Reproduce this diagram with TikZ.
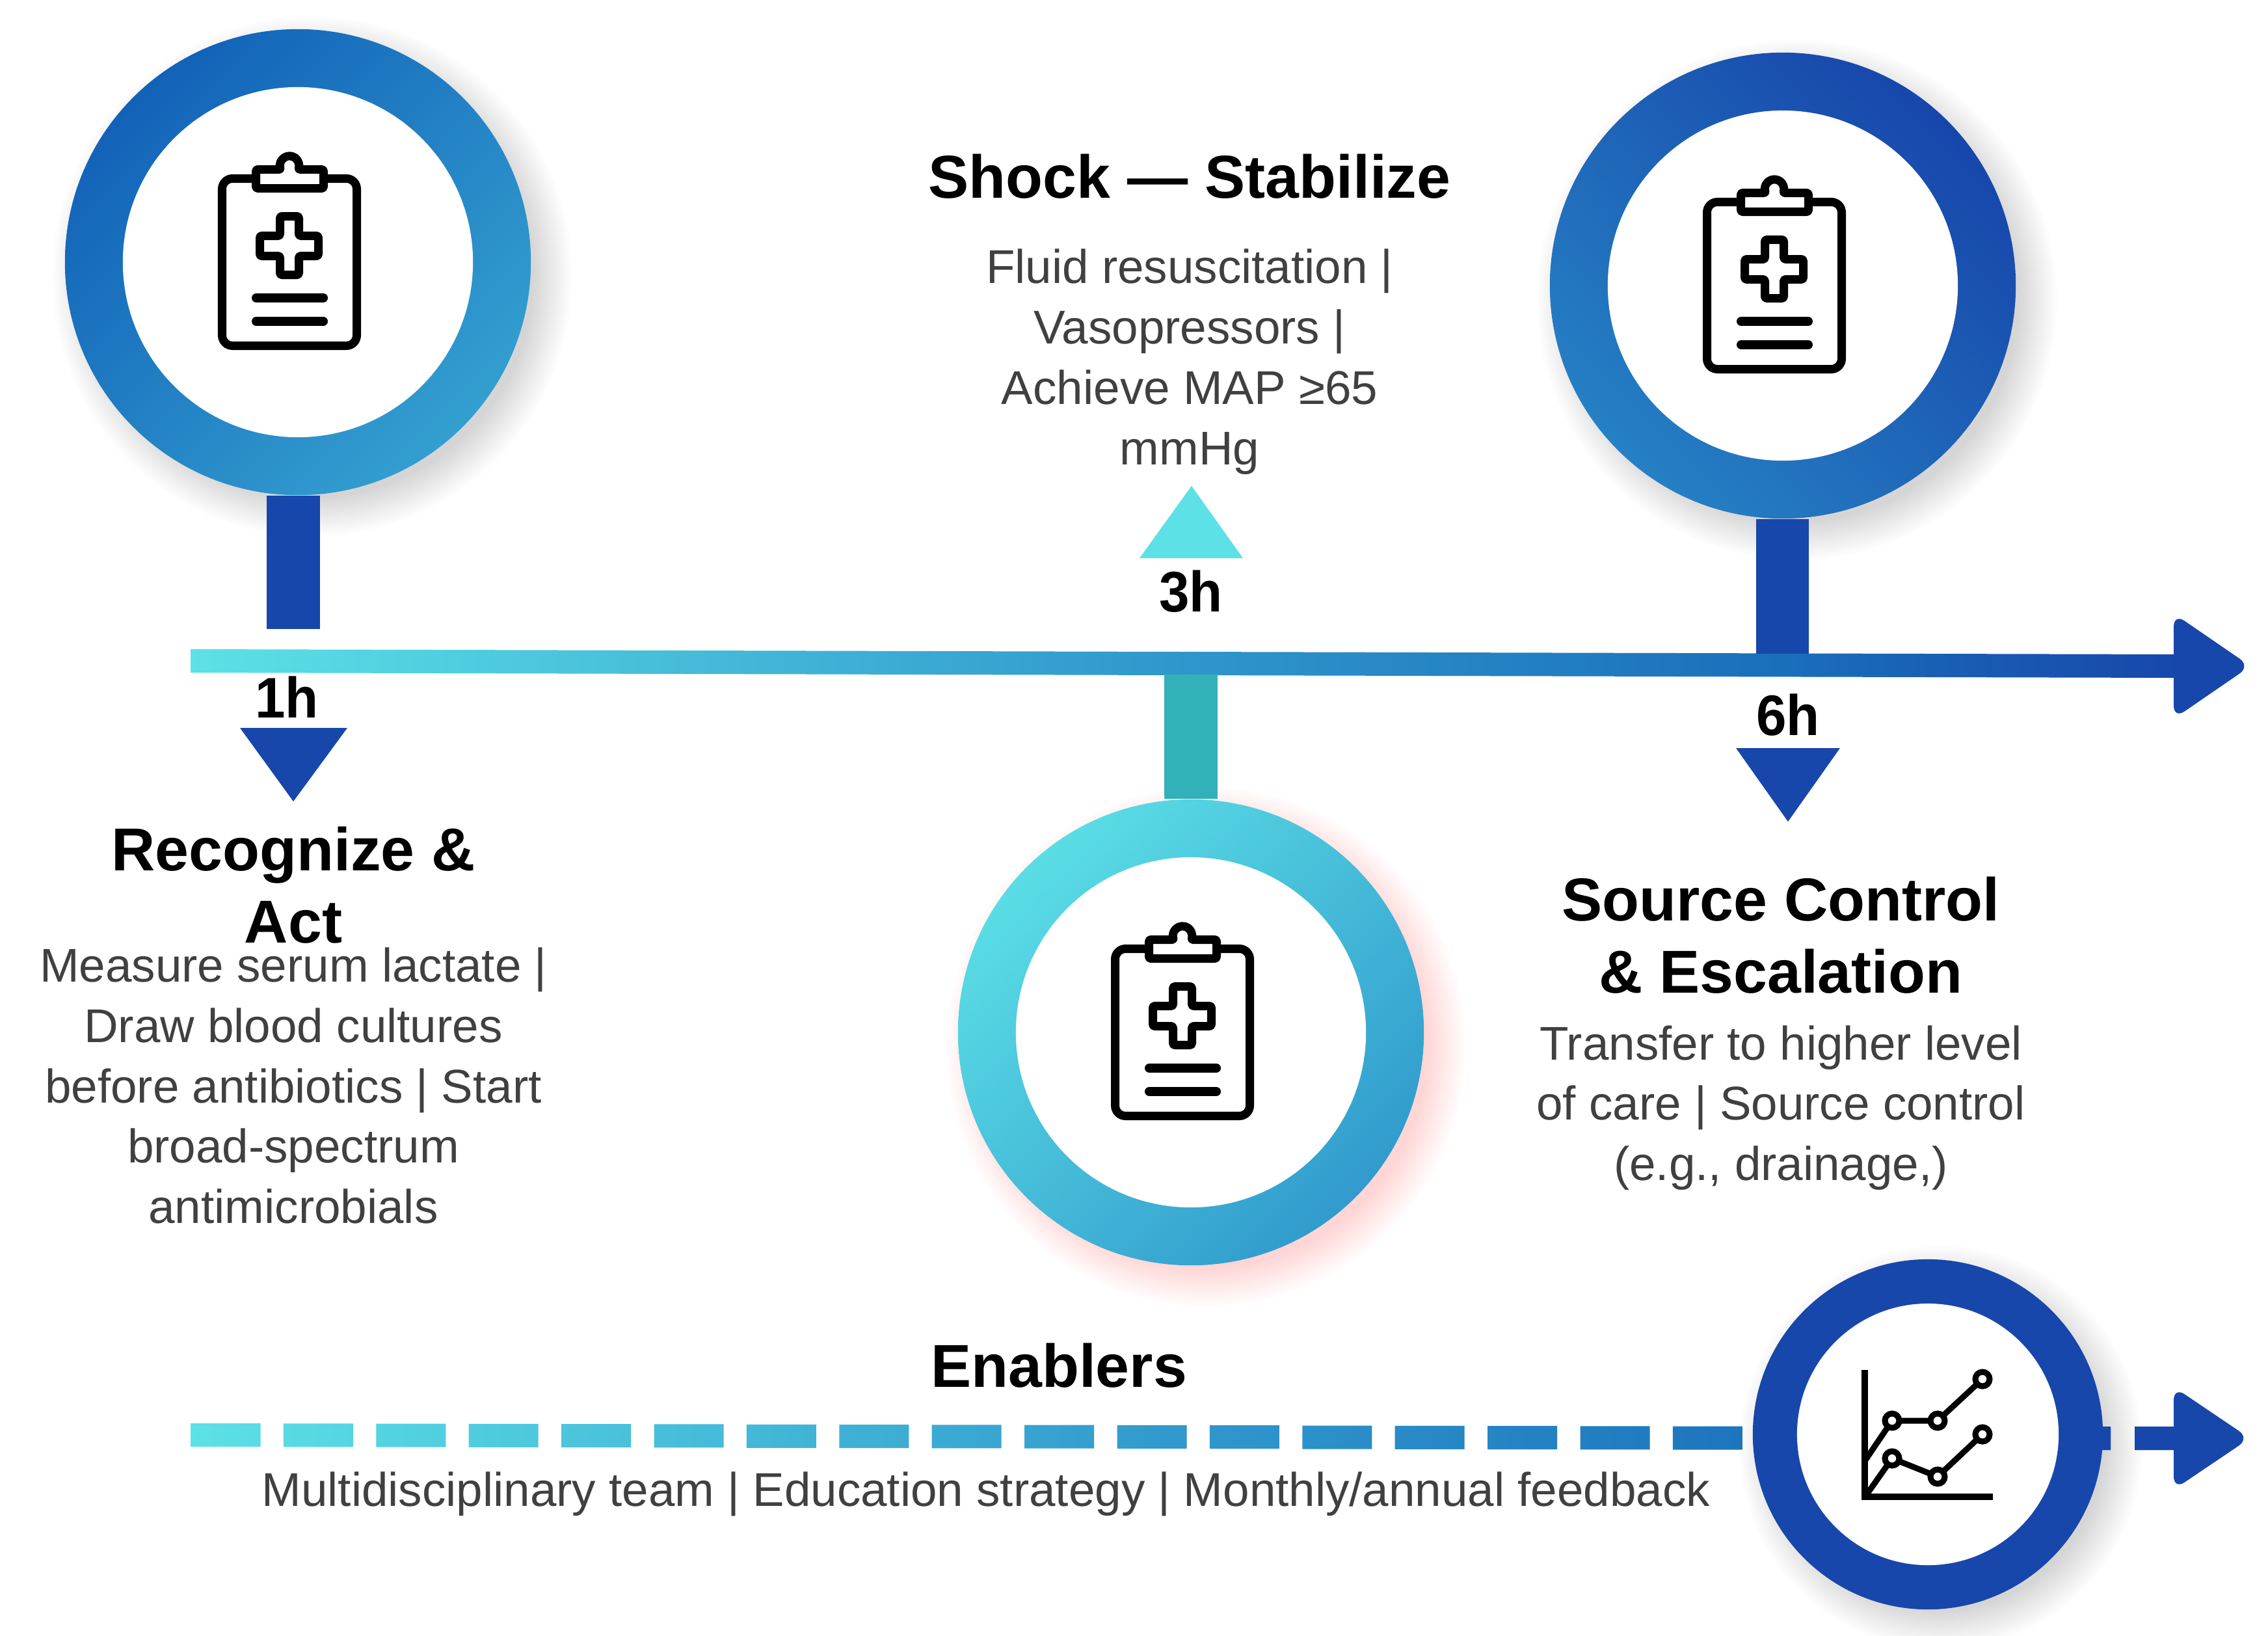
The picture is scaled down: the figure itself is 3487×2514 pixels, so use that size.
\documentclass[tikz,border=0pt]{standalone}
\usepackage{fontspec}
\setmainfont{Liberation Sans}
\newfontfamily\condbold[FakeStretch=0.95]{Liberation Sans Bold}
\usetikzlibrary{calc}
\definecolor{txtgray}{HTML}{404040}
\definecolor{cyanA}{HTML}{5CE1E6}
\definecolor{midB}{HTML}{2F96CC}
\definecolor{deepM}{HTML}{1A6FBB}
\definecolor{blueC}{HTML}{1747AB}
\definecolor{tealD}{HTML}{33B1B9}
\definecolor{ringAa}{HTML}{1262B8}
\definecolor{ringAb}{HTML}{339FD0}
\definecolor{ringBa}{HTML}{5ADDE5}
\definecolor{ringBb}{HTML}{319BCD}
\definecolor{ringCa}{HTML}{1746AB}
\definecolor{ringCb}{HTML}{2580C4}
\definecolor{pinkS}{HTML}{FF7070}
\pgfdeclarehorizontalshading{timeline}{100bp}{color(0bp)=(cyanA); color(25bp)=(cyanA); color(50bp)=(midB); color(65bp)=(deepM); color(75bp)=(blueC); color(100bp)=(blueC)}
\tikzset{
  x=0.01cm,y=-0.01cm,
  titletxt/.style={font=\fontsize{26.5}{31.6}\selectfont\bfseries,align=center,text=black,inner sep=0},
  bodytxt/.style={font=\fontsize{20.7}{26.4}\selectfont,align=center,text=txtgray,inner sep=0},
  hourtxt/.style={font=\fontsize{25}{28}\selectfont\condbold,text=black,inner sep=0},
  ring/.style={circle,minimum size=7.16cm,inner sep=0},
  smallring/.style={circle,minimum size=5.38cm,inner sep=0,fill=white},
  stem/.style={line width=0.81cm},
  iconline/.style={draw=black,line width=0.13cm,line join=round,line cap=round,fill=none},
  clipicon/.pic={
    \draw[iconline,rounded corners=0.16cm] (-64.5,-128.5) -- (-116.5,-128.5) -- (-116.5,128.5) -- (90.5,128.5) -- (90.5,-128.5) -- (39.5,-128.5);
    \draw[iconline,rounded corners=0.03cm] (-64.5,-113.5) -- (-64.5,-142.5) -- (-26,-142.5) arc[start angle=155,end angle=385,radius=14.5] -- (39.5,-142.5) -- (39.5,-113.5) -- cycle;
    \draw[iconline,rounded corners=0.03cm] (-27.5,-70.5) -- (1.5,-70.5) -- (1.5,-40.5) -- (31.5,-40.5) -- (31.5,-9.5) -- (1.5,-9.5) -- (1.5,19.5) -- (-27.5,19.5) -- (-27.5,-9.5) -- (-58.5,-9.5) -- (-58.5,-40.5) -- (-27.5,-40.5) -- cycle;
    \draw[iconline,line width=0.14cm] (-64,55) -- (39,55);
    \draw[iconline,line width=0.14cm] (-64,91) -- (39,91);
  }
}
\newcommand{\softshadow}[4]{%
  \foreach \rr in {0,3,...,60}{\fill[#3,opacity=#4] (#1,#2) circle[radius={340+\rr}];}}
\begin{document}
\begin{tikzpicture}
\useasboundingbox (0,0) rectangle (3487,2514);
\fill[white] (0,0) rectangle (3487,2514);

% shadows
\softshadow{480}{425}{black}{0.009}
\softshadow{2763}{461}{black}{0.009}
\softshadow{1854}{1609}{pinkS}{0.012}
\foreach \rr in {0,3,...,60}{\fill[black,opacity=0.009] (2984,2225) circle[radius={250+\rr}];}

% main timeline
\coordinate (lineA) at (293,1016);
\coordinate (lineB) at (3342,1024);
\path[shading=timeline] (293,998) -- (3350,1006) -- (3350,1042) -- (293,1034) -- cycle;
\fill[blueC,rounded corners=0.2cm] (3342,943) -- (3460,1024) -- (3342,1105) -- cycle;

% rings
\node[ring,left color=ringAa,right color=ringAb,shading angle=45] (ringA) at (458,403) {};
\node[ring,left color=ringCa,right color=ringCb,shading angle=-45] (ringC) at (2741,439) {};
\node[ring,left color=ringBa,right color=ringBb,shading angle=45] (ringB) at (1831,1587) {};
\node[smallring] (innerA) at (ringA) {};
\node[smallring] (innerC) at (ringC) {};
\node[smallring] (innerB) at (ringB) {};
\pic at (innerA) {clipicon};
\pic at (innerC) {clipicon};
\pic at (innerB) {clipicon};

% stems
\coordinate (stemAend) at (451,967);
\coordinate (stemCend) at (2740,1005);
\coordinate (stemBend) at (1831,1037);
\draw[stem,blueC] (ringA.south -| stemAend) -- (stemAend);
\draw[stem,blueC] (ringC.south -| stemCend) -- (stemCend);
\draw[stem,tealD] (ringB.north) -- (stemBend);

% triangles
\fill[blueC] (369,1119) -- (534,1119) -- (451,1232) -- cycle;
\fill[blueC] (2669,1150) -- (2829,1150) -- (2749,1263) -- cycle;
\fill[cyanA] (1832,747) -- (1911,858) -- (1752,858) -- cycle;

% hours
\node[hourtxt] (h1) at (441,1072) {1h};
\node[hourtxt] (h3) at (1831,909) {3h};
\node[hourtxt] (h6) at (2749,1099) {6h};

% titles
\node[titletxt] (tA) at (451,1361) {Recognize \&\\Act};
\node[titletxt] (tB) at (1829,271) {Shock — Stabilize};
\node[titletxt] (tC) at (2738,1438) {Source Control\\\& Escalation};
\node[titletxt] (tD) at (1628,2099) {Enablers};

% bodies
\node[bodytxt] (bA) at (451,1669) {Measure serum lactate |\\Draw blood cultures\\before antibiotics | Start\\broad-spectrum\\antimicrobials};
\node[bodytxt] (bB) at (1829,556) {Fluid resuscitation |\\Vasopressors |\\Achieve MAP ≥65\\mmHg};
\node[bodytxt] (bC) at (2738,1703) {Transfer to higher level\\of care | Source control\\(e.g., drainage,)};
\node[bodytxt] (bD) at (1516,2297) {Multidisciplinary team | Education strategy | Monthly/annual feedback};

% enablers dashed line
\coordinate (dashA) at (293,2206);
\begin{scope}
\clip \foreach \i in {0,...,16}{ ({293.5+142.4*\i},{2188+0.29*\i}) rectangle ({400.5+142.4*\i},{2224+0.29*\i}) }
  (3232,2193) rectangle (3245,2229)
  (3282,2193) rectangle (3350,2229);
\path[shading=timeline] (293,2100) rectangle (3451,2300);
\fill[blueC] (3200,2100) rectangle (3451,2300);
\end{scope}
\fill[blueC,rounded corners=0.2cm] (3342,2132) -- (3459,2211) -- (3342,2290) -- cycle;

% enablers ring
\node[circle,minimum size=5.38cm,inner sep=0,fill=blueC] (ringD) at (2964,2205) {};
\node[circle,minimum size=4.02cm,inner sep=0,fill=white] (innerD) at (ringD) {};
\draw[black,line width=0.1cm] (2867,2106) -- (2867,2301) -- (3064,2301);
\draw[black,line width=0.09cm,line join=round] (2867,2246) -- (2909,2184) -- (2979,2184) -- (3048,2120);
\draw[black,line width=0.09cm,line join=round] (2871,2296) -- (2909,2242) -- (2979,2270) -- (3048,2205);
\foreach \p in {(2909,2184),(2979,2184),(3048,2120),(2909,2242),(2979,2270),(3048,2205)}{
  \draw[black,line width=0.09cm,fill=white] \p circle[radius=11];
}
\end{tikzpicture}
\end{document}
